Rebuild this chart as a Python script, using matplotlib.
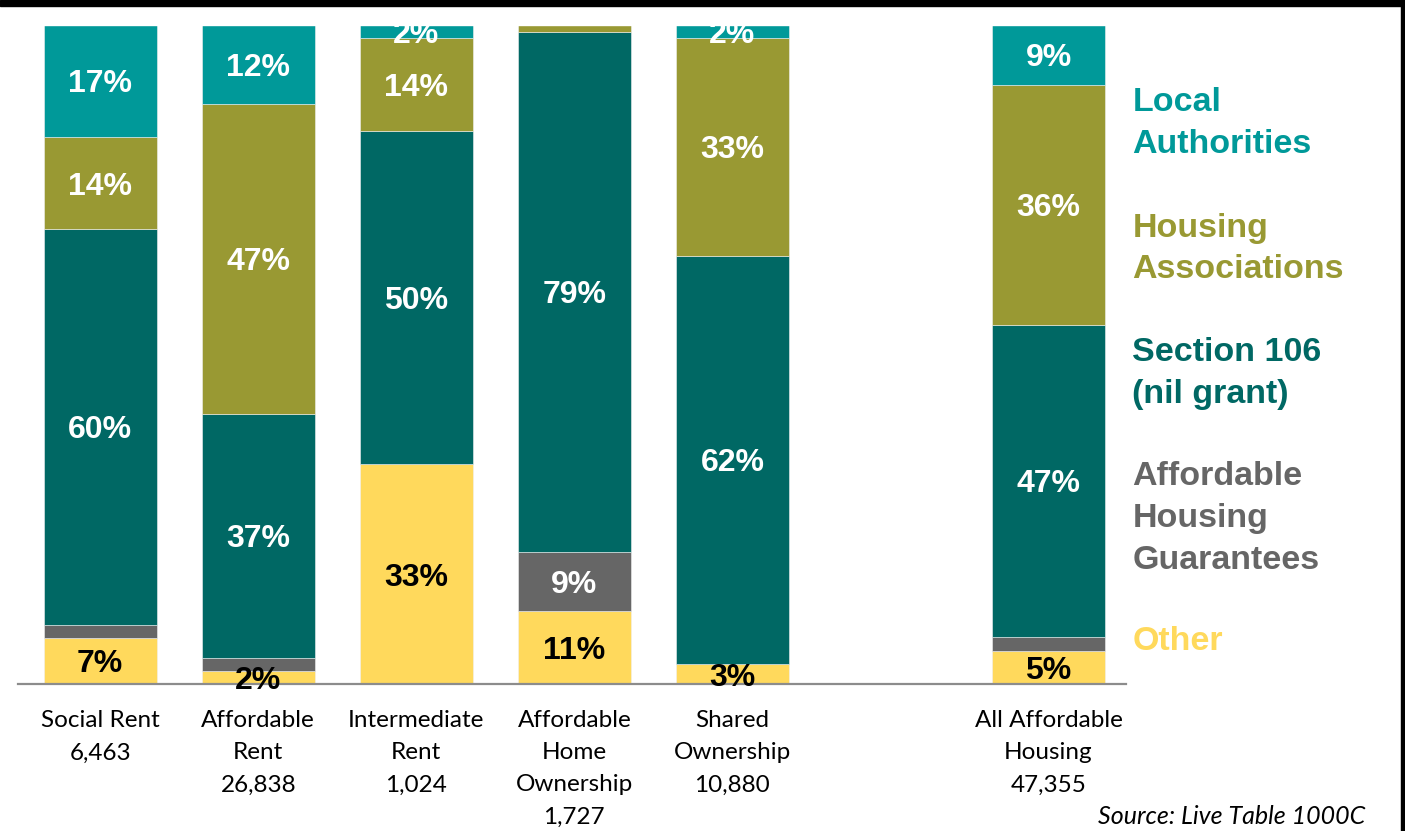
import numpy as np
import matplotlib.pyplot as plt
from matplotlib.patches import Rectangle

# Tenure groups along the x axis, with completions count under each name
tenures = ['Social Rent', 'Affordable\nRent', 'Intermediate\nRent',
           'Affordable\nHome\nOwnership', 'Shared\nOwnership',
           'All Affordable\nHousing']
completions = ['6,463', '26,838', '1,024', '1,727', '10,880', '47,355']
positions = [0, 1, 2, 3, 4, 6]

# Share of each tenure by provider (%), bottom of the stack first
other = [7, 2, 33, 11, 3, 5]
ahg = [2, 2, 0, 9, 0, 2]
s106 = [60, 37, 50, 79, 62, 47]
ha = [14, 47, 14, 1, 33, 36]
la = [17, 12, 2, 0, 2, 9]

series = [
    ('Other', other, '#FFD95C', 'black'),
    ('Affordable\nHousing\nGuarantees', ahg, '#666666', 'white'),
    ('Section 106\n(nil grant)', s106, '#006864', 'white'),
    ('Housing\nAssociations', ha, '#999933', 'white'),
    ('Local\nAuthorities', la, '#009999', 'white'),
]

BOLD = 'Liberation Sans'
REG = 'Lato'

fig = plt.figure(figsize=(14.05, 8.31), dpi=100)
ax = fig.add_axes([0.0128, 0.1769, 0.7886, 0.7931])

totals = np.sum([s[1] for s in series], axis=0)
bottom = np.zeros(len(positions))
for name, vals, col, txtcol in series:
    share = np.array(vals) / totals * 100
    ax.bar(positions, share, bottom=bottom, width=0.715, color=col,
           edgecolor='#f0f0f0', linewidth=0.4)
    for x, v, b, h in zip(positions, vals, bottom, share):
        # tiny slices are left unlabelled
        if v < 2 or (name.startswith('Affordable') and v < 5):
            continue
        ax.text(x, b + h / 2, f'{v}%', ha='center', va='center_baseline',
                color=txtcol, fontsize=23, fontweight='bold', family=BOLD)
    bottom += share

ax.set_xlim(-0.52, 6.49)
ax.set_ylim(0, 100)
ax.set_yticks([])
ax.set_xticks(positions)
ax.set_xticklabels([f'{t}\n{c}' for t, c in zip(tenures, completions)],
                   family=REG, fontsize=17.5, linespacing=1.65, va='top')
ax.tick_params(axis='x', length=0, pad=19)
for side in ['top', 'right', 'left']:
    ax.spines[side].set_visible(False)
ax.spines['bottom'].set_color('#8c8c8c')
ax.spines['bottom'].set_linewidth(1.6)

# provider key down the right hand side
key_y = [0.851, 0.7004, 0.551, 0.376, 0.2281]
for (name, vals, col, txtcol), y in zip(series[::-1], key_y):
    fig.text(0.806, y, name, color=col, fontsize=24.5, fontweight='bold',
             family=BOLD, va='center', ha='left', linespacing=1.45)

fig.text(0.9715, 0.004, 'Source: Live Table 1000C', ha='right', va='bottom',
         fontsize=18, style='italic', family=REG)

# mask overflow above the bars and draw the frame edges
fig.patches.append(Rectangle((0, 0.97), 1, 0.03, transform=fig.transFigure,
                             color='white', zorder=5))
fig.patches.append(Rectangle((0, 0.9928), 1, 0.0072, transform=fig.transFigure,
                             color='black', zorder=6))
fig.patches.append(Rectangle((0.9975, 0), 0.0025, 1, transform=fig.transFigure,
                             color='black', zorder=6))

fig.savefig('out.png', dpi=100)
